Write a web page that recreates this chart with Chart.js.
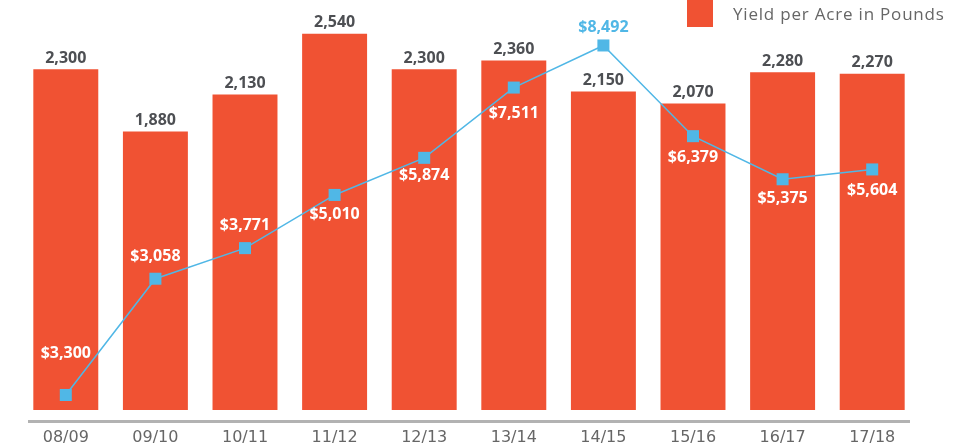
<!DOCTYPE html>
<html>
<head>
<meta charset="utf-8">
<script src="https://cdn.jsdelivr.net/npm/chart.js@4"></script>
<style>
  html, body { margin: 0; padding: 0; background: #fff; }
  #wrap { position: relative; width: 978px; height: 448px; }
  #legend { position: absolute; left: 687px; top: 0; height: 27px; display: flex; align-items: center;
    font-family: "Open Sans", sans-serif; font-size: 17px; letter-spacing: 0.8px; color: #666; }
  #legend span.box { display: inline-block; width: 26px; height: 27px; background: #F05233; margin-right: 20px; }
</style>
</head>
<body>
<div id="wrap">
  <canvas id="chart" width="978" height="448"></canvas>
  <div id="legend"><span class="box"></span>Yield per Acre in Pounds</div>
</div>
<script>
const categories = ["08/09", "09/10", "10/11", "11/12", "12/13", "13/14", "14/15", "15/16", "16/17", "17/18"];
const yieldPerAcre = [2300, 1880, 2130, 2540, 2300, 2360, 2150, 2070, 2280, 2270];
// value per acre, as plotted (first point sits near $350 in the source picture)
const valuePerAcre = [350, 3058, 3771, 5010, 5874, 7511, 8492, 6379, 5375, 5604];
const valueLabels = ["$3,300", "$3,058", "$3,771", "$5,010", "$5,874", "$7,511", "$8,492", "$6,379", "$5,375", "$5,604"];

const BAR_COLOR = "#F05233";
const LINE_COLOR = "#50B7E6";
const labelOffsets = [-42, -22, -23, 20, 18, 26, -18, 21, 19, 21];
const peakIndex = 6;

const labelsPlugin = {
  id: "labelsPlugin",
  afterDatasetsDraw(chart) {
    const ctx = chart.ctx;
    const area = chart.chartArea;
    ctx.save();
    // axis base line
    ctx.fillStyle = "#b2b2b2";
    ctx.fillRect(28, area.bottom + 10, 882, 3);

    ctx.textAlign = "center";
    ctx.textBaseline = "middle";
    ctx.font = "bold 16px 'Open Sans'";
    chart.getDatasetMeta(1).data.forEach((bar, i) => {
      ctx.fillStyle = "#4d4f53";
      ctx.fillText(yieldPerAcre[i].toLocaleString("en-US"), bar.x, bar.y - 11);
    });
    chart.getDatasetMeta(0).data.forEach((pt, i) => {
      ctx.fillStyle = i === peakIndex ? LINE_COLOR : "#fff";
      ctx.fillText(valueLabels[i], pt.x, pt.y + labelOffsets[i]);
    });
    ctx.restore();
  }
};

const ctx = document.getElementById("chart").getContext("2d");
new Chart(ctx, {
  data: {
    labels: categories,
    datasets: [
      {
        type: "line",
        label: "Value per Acre",
        data: valuePerAcre,
        yAxisID: "y2",
        borderColor: LINE_COLOR,
        backgroundColor: LINE_COLOR,
        borderWidth: 1.5,
        pointStyle: "rect",
        pointRadius: 8.5,
        pointBorderWidth: 0,
        tension: 0,
        clip: false,
        order: 0
      },
      {
        type: "bar",
        label: "Yield per Acre in Pounds",
        data: yieldPerAcre,
        yAxisID: "y",
        backgroundColor: BAR_COLOR,
        categoryPercentage: 1,
        barPercentage: 0.725,
        order: 1
      }
    ]
  },
  options: {
    responsive: false,
    animation: false,
    layout: { padding: { left: 21, right: 61, top: 0, bottom: 2 } },
    plugins: {
      legend: { display: false },
      tooltip: { enabled: false }
    },
    scales: {
      x: {
        grid: { display: false, drawTicks: false },
        border: { display: false },
        afterFit(scale) { scale.height = 36; },
        ticks: {
          padding: 18,
          color: "#666",
          font: { family: "DejaVu Sans", size: 16 }
        }
      },
      y: { display: false, min: 0, max: 2711 },
      y2: { display: false, min: 0, max: 9353 }
    }
  },
  plugins: [labelsPlugin]
});
</script>
</body>
</html>
